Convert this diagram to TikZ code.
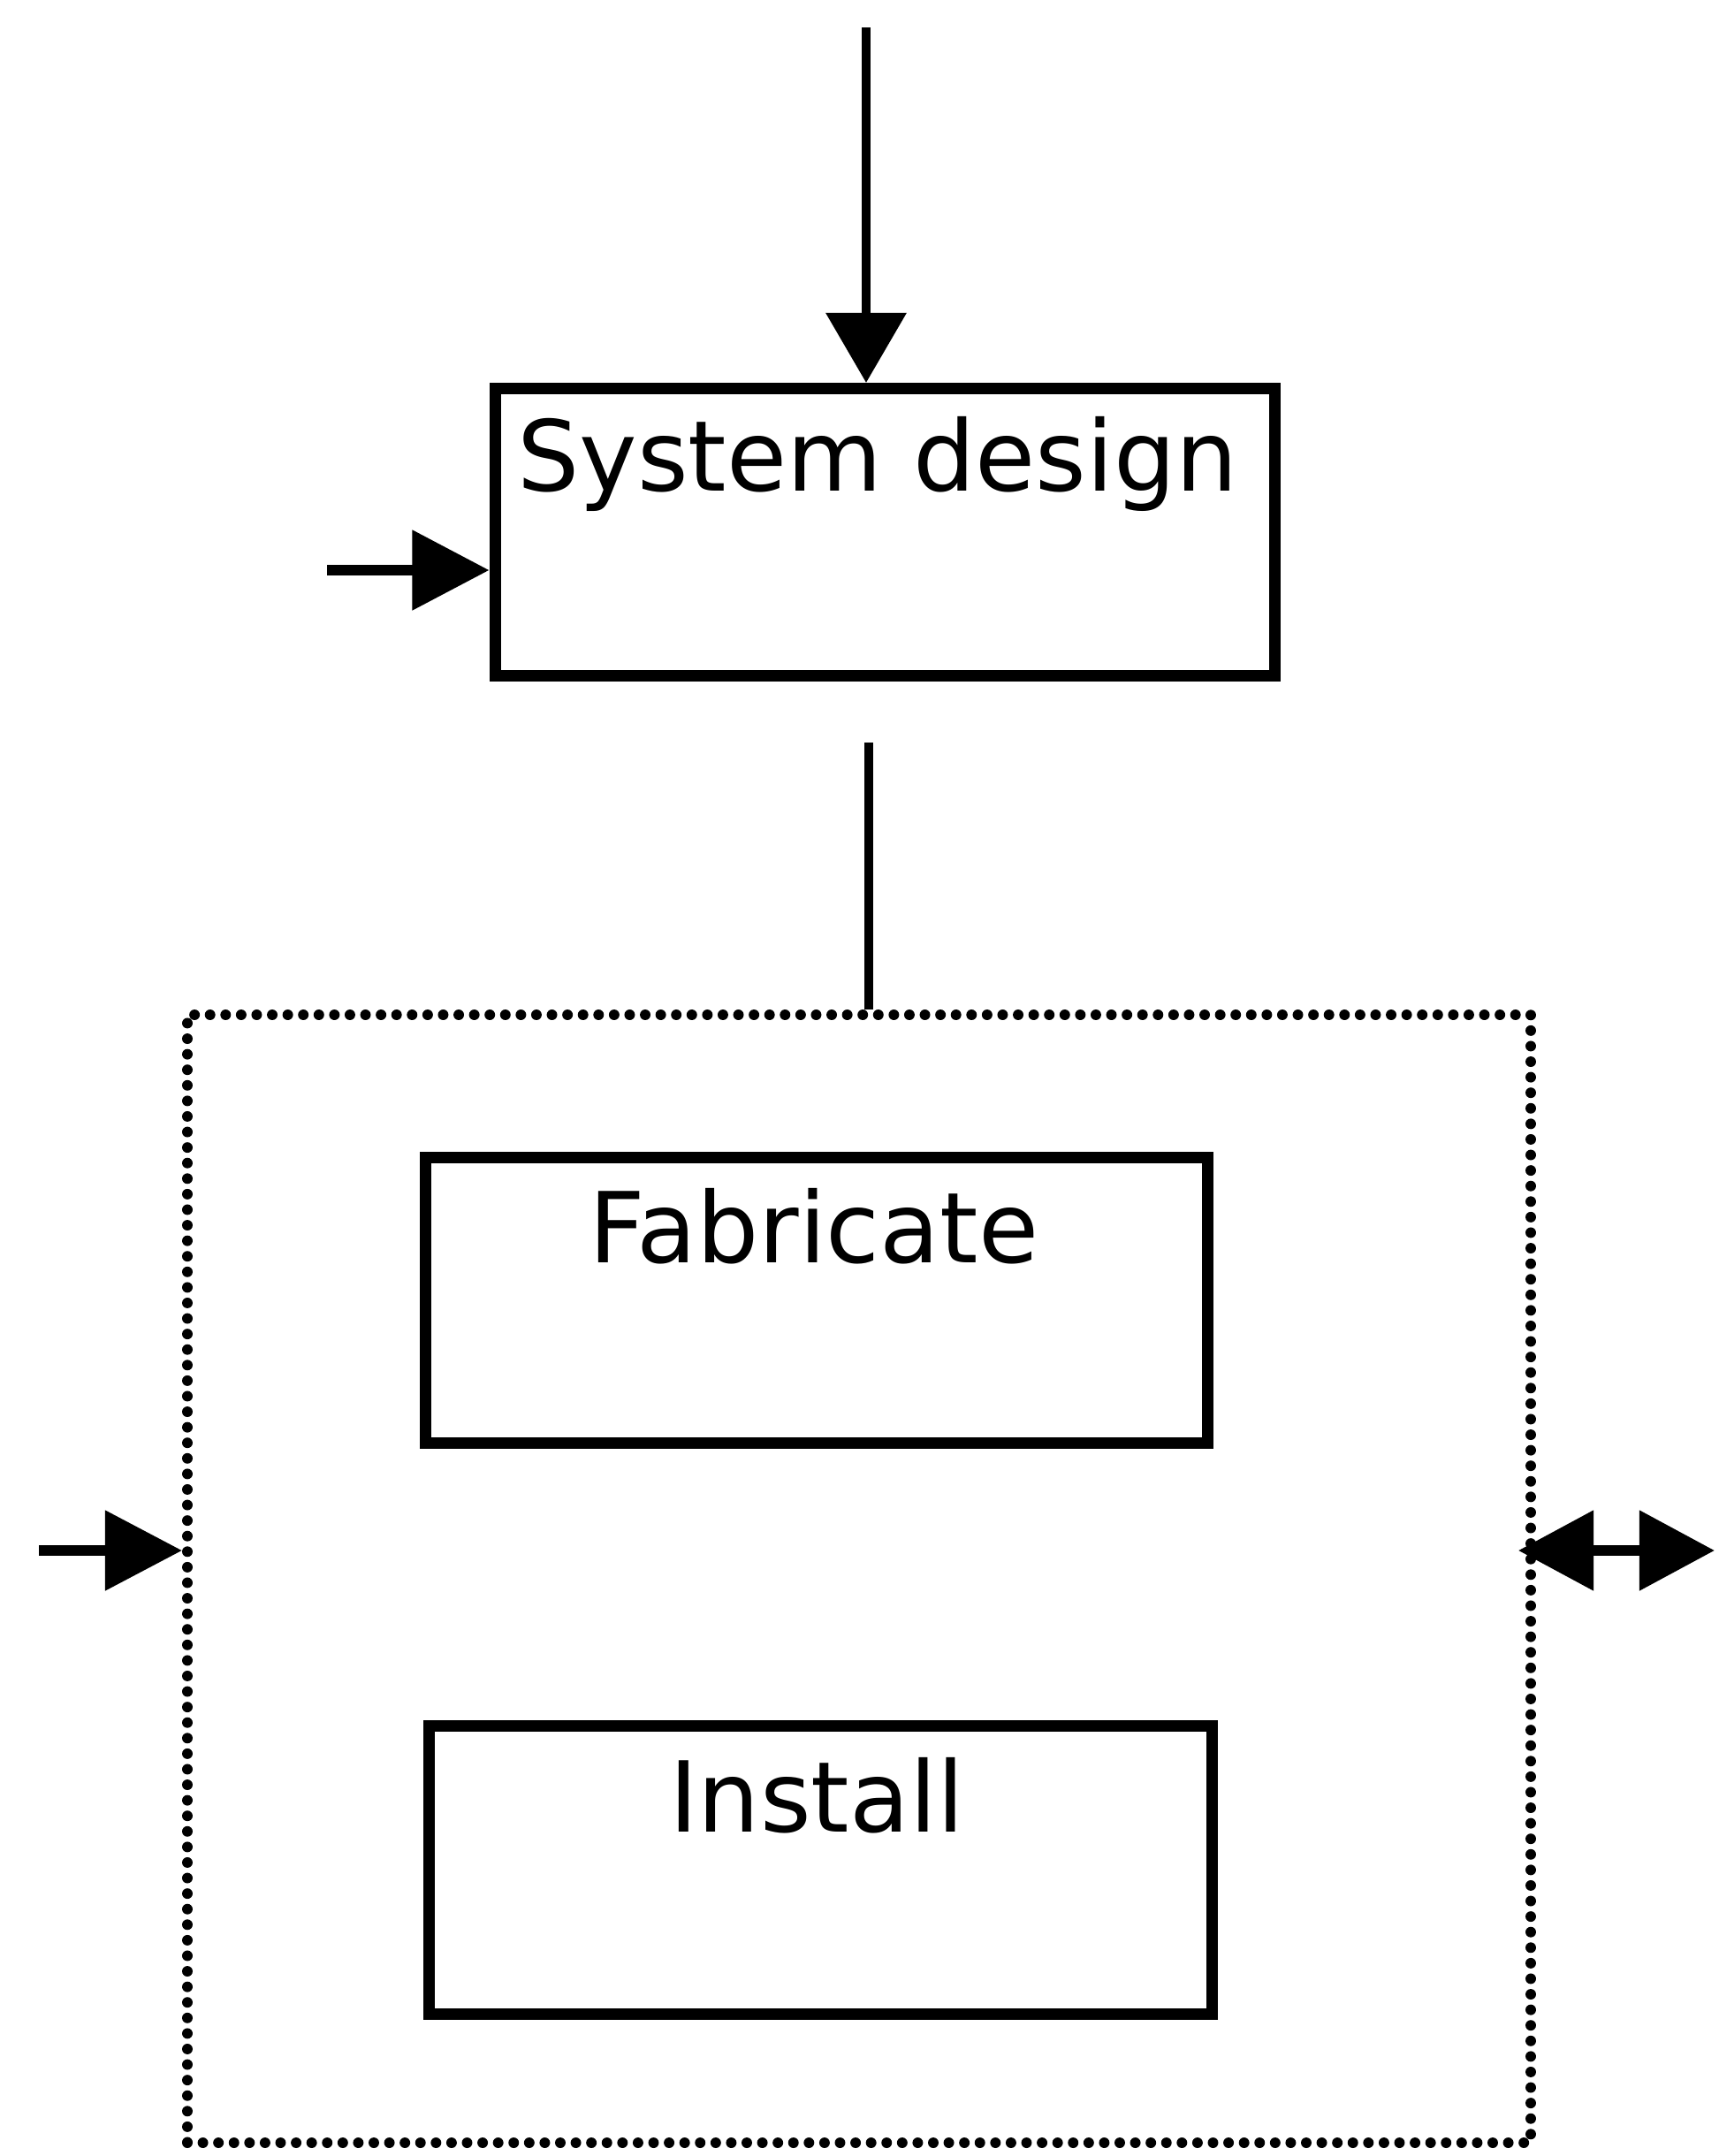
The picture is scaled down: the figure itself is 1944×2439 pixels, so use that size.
\documentclass[tikz,border=0pt]{standalone}
\usepackage{fontspec}
\setmainfont{DejaVu Sans}
\usetikzlibrary{arrows.meta}
\begin{document}
\begin{tikzpicture}[x=0.01cm,y=-0.01cm,
  procbox/.style={draw=black,line width=3.7pt,fill=none,inner sep=0pt},
  grpbox/.style={draw=black,line width=3.4pt,line cap=round,dash pattern=on 0pt off 5pt,inner sep=0pt},
  boxlabel/.style={anchor=base,inner sep=0pt,font=\fontsize{31.5}{37}\selectfont},
  flow/.style={line width=2.9pt},
  feed/.style={line width=3.4pt,-{Triangle[length=0.87cm,width=0.88cm]}},
  both/.style={line width=3.4pt,{Triangle[length=0.85cm,width=0.88cm]}-{Triangle[length=0.85cm,width=0.88cm]}}]
\useasboundingbox (0,0) rectangle (1944,2439);

% process boxes
\node[procbox,minimum width=882*0.01cm,minimum height=325*0.01cm] (sys) at (1001,602) {};
\node[procbox,minimum width=885*0.01cm,minimum height=323*0.01cm] (fab) at (924,1471) {};
\node[procbox,minimum width=886*0.01cm,minimum height=326*0.01cm] (inst) at (928,2115) {};
% dotted group around fabrication and installation
\node[grpbox,minimum width=1520*0.01cm,minimum height=1276*0.01cm] (grp) at (972,1786) {};

% labels
\node[boxlabel] (syslbl) at (993,555) {System design};
\node[boxlabel] (fablbl) at (921,1428) {Fabricate};
\node[boxlabel] (instlbl) at (924,2072) {Install};

% free ends of connectors
\coordinate (topin) at (980,31);
\coordinate (sysin) at (370,645);
\coordinate (sysout) at (983,840);
\coordinate (grpin) at (44,1754);
\coordinate (grpio) at (1940,1754);

% connectors
\draw[flow,-{Triangle[length=0.79cm,width=0.89cm]}] (topin) -- (topin |- sys.north);
\draw[feed] (sysin) -- (sysin -| sys.west);
\draw[flow] (sysout) -- (sysout |- grp.north);
\draw[feed] (grpin) -- (grpin -| grp.west);
\draw[both,shorten <=-0.2cm] (grpin -| grp.east) -- (grpio);
\end{tikzpicture}
\end{document}
